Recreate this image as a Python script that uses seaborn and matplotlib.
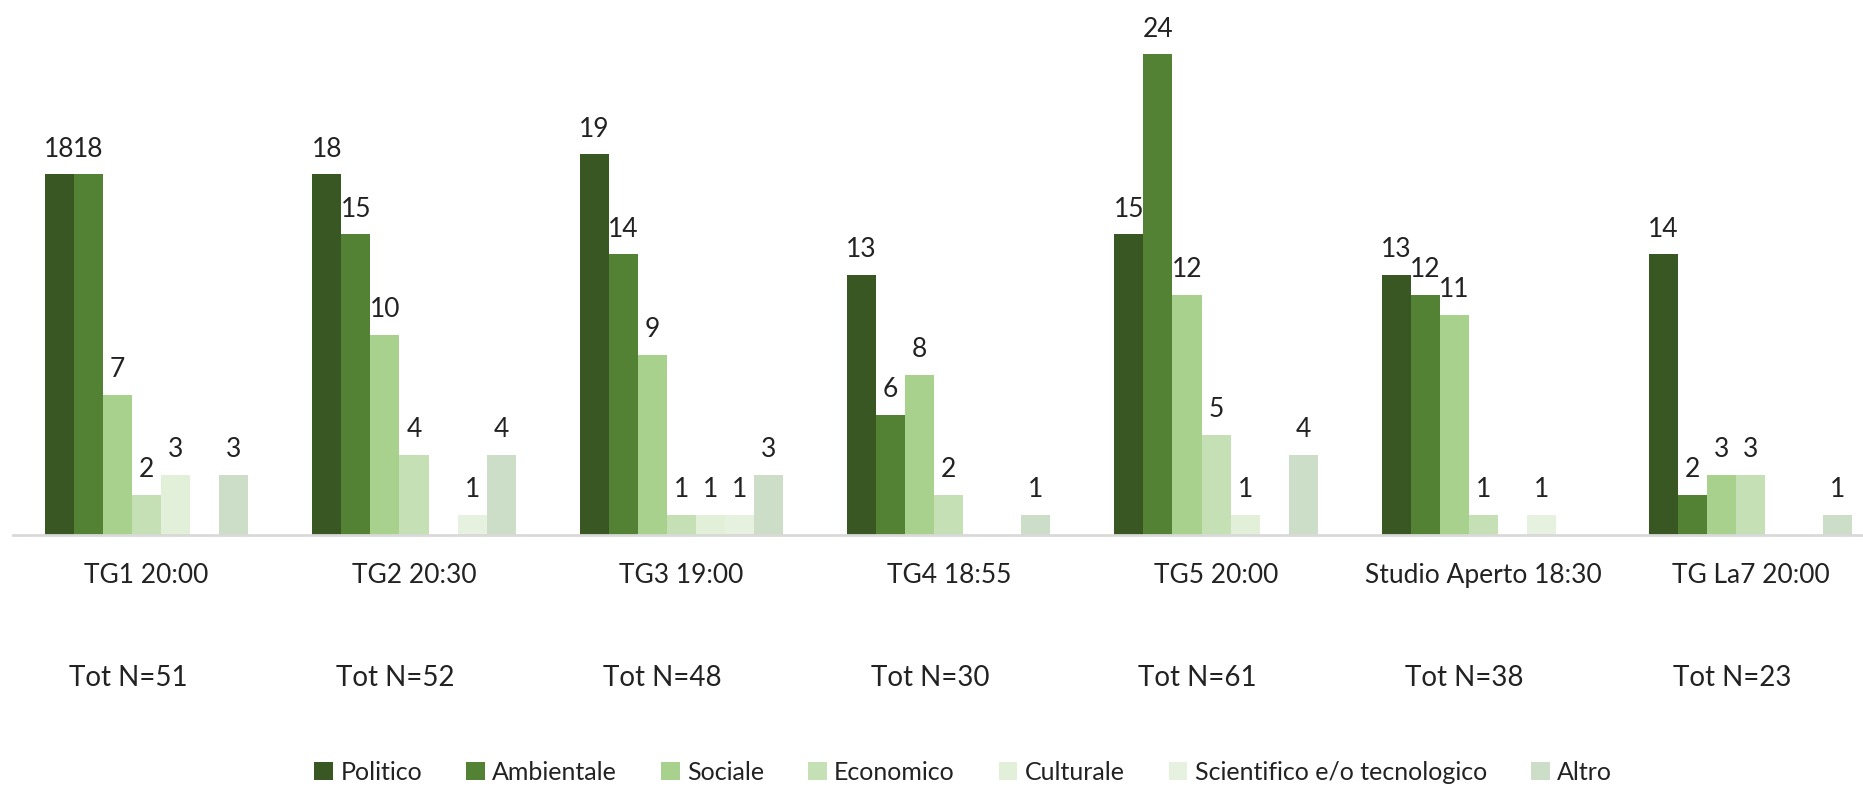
import pandas as pd
import matplotlib.pyplot as plt
import matplotlib.transforms as mtransforms
import seaborn as sns

# data
programmi = ['TG1 20:00', 'TG2 20:30', 'TG3 19:00', 'TG4 18:55',
             'TG5 20:00', 'Studio Aperto 18:30', 'TG La7 20:00']
totali = [51, 52, 48, 30, 61, 38, 23]
temi = ['Politico', 'Ambientale', 'Sociale', 'Economico', 'Culturale',
        'Scientifico e/o tecnologico', 'Altro']
politico = [18, 18, 19, 13, 15, 13, 14]
ambientale = [18, 15, 14, 6, 24, 12, 2]
sociale = [7, 10, 9, 8, 12, 11, 3]
economico = [2, 4, 1, 2, 5, 1, 3]
culturale = [3, 0, 1, 0, 1, 0, 0]
scientifico = [0, 1, 1, 0, 0, 1, 0]
altro = [3, 4, 3, 1, 4, 0, 1]

colori = ['#385723', '#548235', '#A9D18E', '#C5E0B4', '#E2F0D9', '#E6F1DF', '#CCDEC8']

valori = [politico, ambientale, sociale, economico, culturale, scientifico, altro]
rows = []
for tema, serie in zip(temi, valori):
    for prog, v in zip(programmi, serie):
        rows.append({'Programma': prog, 'Tema': tema, 'N': v})
df = pd.DataFrame(rows)

sns.set_style('white')
plt.rcParams['font.family'] = ['Lato', 'DejaVu Sans']
fs = 19

fig = plt.figure(figsize=(18.63, 7.86), dpi=100)
ax = fig.add_axes([13 / 1863, 1 - 535 / 786, 1 - 13 / 1863, 535 / 786])

sns.barplot(data=df, x='Programma', y='N', hue='Tema', hue_order=temi,
            order=programmi, palette=colori, width=0.76, linewidth=0,
            saturation=1, errorbar=None, ax=ax)

for cont in ax.containers:
    labels = [f'{int(b.get_height())}' if b.get_height() > 0 else '' for b in cont]
    ax.bar_label(cont, labels=labels, padding=9, fontsize=fs, color='#222222')

ax.set_xlim(-0.5, 6.42)
ax.set_ylim(0, 26.7)
ax.set_xlabel('')
ax.set_ylabel('')
ax.set_yticks([])
ax.tick_params(axis='x', length=0, pad=20, labelsize=fs, labelcolor='#222222')
for s in ['top', 'left', 'right']:
    ax.spines[s].set_visible(False)
ax.spines['bottom'].set_color('#D9D9D9')
ax.spines['bottom'].set_linewidth(2)

# the "Tot N" boxes sit a little left of the group centres
trans = mtransforms.blended_transform_factory(ax.transData, fig.transFigure)
for i, n in enumerate(totali):
    ax.text(i - 0.07, 1 - 678 / 786, f'Tot N={n}', transform=trans, ha='center',
            va='center', fontsize=fs + 1, color='#222222')

handles, lbls = ax.get_legend_handles_labels()
ax.legend(handles, lbls, loc='center', bbox_to_anchor=(0.517, 1 - 772 / 786),
          bbox_transform=fig.transFigure, ncol=7, frameon=False, fontsize=fs - 1,
          handlelength=0.75, handleheight=0.75, handletextpad=0.3, columnspacing=1.75,
          labelcolor='#222222')

fig.savefig('out.png', dpi=100)
